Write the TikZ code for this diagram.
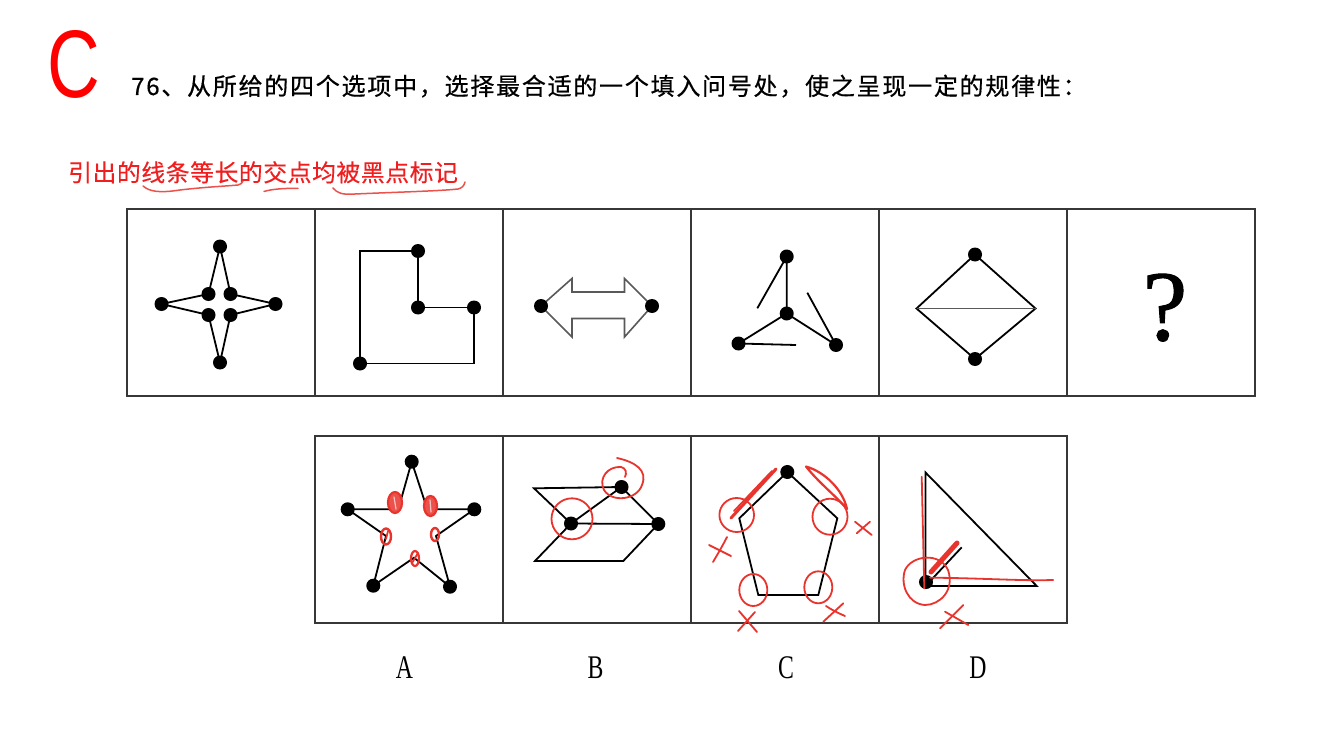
\documentclass[tikz,border=0pt]{standalone}
\usepackage{fontspec}
\setmainfont{Liberation Serif}
\newfontfamily\cjkhead[LetterSpace=7.3,FakeBold=0.6]{Noto Sans CJK SC}
\newfontfamily\cjkred[LetterSpace=2.5,FakeBold=0.3]{Noto Sans CJK SC}
\newfontfamily\sansC{Liberation Sans}
\newfontfamily\qfont[FakeBold=1.0]{Liberation Serif}
\definecolor{annot}{RGB}{232,52,45}
\definecolor{notered}{RGB}{240,30,30}
\definecolor{framec}{RGB}{55,55,55}
\begin{document}
\begin{tikzpicture}[x=1pt,y=-1pt,
  cellframe/.style={draw=framec, line width=2.4},
  fig/.style={draw=black, line width=1.8, line join=miter},
  figgray/.style={draw=black!65, line width=1.6, line join=miter},
  dot/.style={circle, fill=black, inner sep=0pt, minimum size=14pt},
  redmark/.style={draw=annot, line width=1.8, line cap=round, line join=round},
  blob/.style={draw=annot, line width=2.2, fill=annot!85},
  lab/.style={anchor=base, inner sep=0pt}]
\useasboundingbox (0,0) rectangle (1341,754);
\fill[white] (0,0) rectangle (1341,754);

% ---------- header ----------
\node[anchor=base west, inner sep=0pt] (bigC) at (47,98)
  {\scalebox{0.76}[1]{\fontsize{96}{100}\selectfont\sansC\color{red}C}};
\node[anchor=base west, inner sep=0pt] (title) at (131,95)
  {\fontsize{24}{28}\selectfont\cjkhead 76、从所给的四个选项中，选择最合适的一个填入问号处，使之呈现一定的规律性：};
\node[anchor=base west, inner sep=0pt, text=notered] (note) at (68,181.4)
  {\fontsize{23.8}{28}\selectfont\cjkred 引出的线条等长的交点均被黑点标记};
\draw[redmark, line width=1.5, draw=annot!85] (143,186) .. controls (150,192) and (160,193) .. (180,190)
  .. controls (205,187) and (228,186) .. (238,185) .. controls (241,184.5) and (242,183) .. (243,181);
\draw[redmark, line width=1.5, draw=annot!85] (264,191.5) .. controls (272,189) and (286,188) .. (298,188.5);
\draw[redmark, line width=1.5, draw=annot!85] (333,188) .. controls (337,193) and (342,195) .. (355,194)
  .. controls (400,192) and (440,191) .. (458,189) .. controls (462,188) and (464,186) .. (465,182);

% ---------- frames ----------
\draw[cellframe] (127,209) rectangle (1255,396);
\foreach \xx in {315,503,691,879,1067} \draw[cellframe] (\xx,209) -- (\xx,396);
\draw[cellframe] (315,436) rectangle (1067,623);
\foreach \xx in {503,691,879} \draw[cellframe] (\xx,436) -- (\xx,623);

% ---------- cell 1: four-point star ----------
\coordinate (s1t) at (220,246.5);
\coordinate (s1l) at (161.5,304);
\coordinate (s1r) at (275.5,304);
\coordinate (s1b) at (220,362.5);
\coordinate (s1a) at (208.5,294);
\coordinate (s1c) at (230.5,294);
\coordinate (s1d) at (208.5,315);
\coordinate (s1e) at (230.5,315);
\draw[fig] (s1a) -- (s1t) -- (s1c) -- (s1r) -- (s1e) -- (s1b) -- (s1d) -- (s1l) -- cycle;
\foreach \p in {s1t,s1l,s1r,s1b,s1a,s1c,s1d,s1e} \node[dot] (d-\p) at (\p) {};

% ---------- cell 2: L shape ----------
\coordinate (l1) at (360,251);
\coordinate (l2) at (418,251);
\coordinate (l3) at (418,307.5);
\coordinate (l4) at (474,307.5);
\coordinate (l5) at (474,363.5);
\coordinate (l6) at (360,363.5);
\draw[fig] (l1) -- (l2) -- (l3) -- (l4) -- (l5) -- (l6) -- cycle;
\foreach \p in {l2,l3,l4,l6} \node[dot] (d-\p) at (\p) {};

% ---------- cell 3: double arrow ----------
\coordinate (a1) at (541,306);
\coordinate (a2) at (572,278.5);
\coordinate (a3) at (572,292);
\coordinate (a4) at (624.5,292);
\coordinate (a5) at (624.5,278.5);
\coordinate (a6) at (652,306);
\coordinate (a7) at (624.5,337);
\coordinate (a8) at (624.5,318.5);
\coordinate (a9) at (572,318.5);
\coordinate (a10) at (572,337);
\draw[figgray] (a1) -- (a2) -- (a3) -- (a4) -- (a5) -- (a6) -- (a7) -- (a8) -- (a9) -- (a10) -- cycle;
\node[dot] (d-a1) at (a1) {};
\node[dot] (d-a6) at (a6) {};

% ---------- cell 4: tripod ----------
\coordinate (t0) at (786.7,256.5);
\coordinate (tm) at (786.7,313.5);
\coordinate (tl) at (738.5,343.5);
\coordinate (tr) at (836,345);
\coordinate (te1) at (757.3,308.3);
\coordinate (te2) at (807.3,292.7);
\coordinate (te3) at (796,345);
\draw[fig] (t0) -- (tm) -- (tl);
\draw[fig] (tm) -- (tr);
\draw[fig] (t0) -- (te1);
\draw[fig] (tr) -- (te2);
\draw[fig] (tl) -- (te3);
\foreach \p in {t0,tm,tl,tr} \node[dot] (d-\p) at (\p) {};

% ---------- cell 5: diamond ----------
\coordinate (m1) at (975,254.5);
\coordinate (m2) at (916.5,308.5);
\coordinate (m3) at (975,359);
\coordinate (m4) at (1035.5,308.5);
\draw[fig] (m1) -- (m2) -- (m3) -- (m4) -- cycle;
\draw[figgray] (m2) -- (m4);
\node[dot] (d-m1) at (m1) {};
\node[dot] (d-m3) at (m3) {};

% ---------- cell 6: question mark ----------
\node[anchor=base, inner sep=0pt] (qmark) at (1165,340) {\fontsize{100}{100}\selectfont\qfont ?};

% ---------- option A: five-point star ----------
\coordinate (pt) at (411.7,461.7);
\coordinate (pa) at (398.3,509.3);
\coordinate (pl) at (347.7,509.3);
\coordinate (pb) at (386,536);
\coordinate (pbl) at (373.3,585.7);
\coordinate (pc) at (414,557.7);
\coordinate (pbr) at (450,586.7);
\coordinate (pd) at (436,536);
\coordinate (pr) at (474.3,509.3);
\coordinate (pe) at (427.3,509.3);
\draw[fig] (pt) -- (pa) -- (pl) -- (pb) -- (pbl) -- (pc) -- (pbr) -- (pd) -- (pr) -- (pe) -- cycle;
\foreach \p in {pt,pl,pbl,pbr,pr} \node[dot] (d-\p) at (\p) {};
\draw[blob] (395,502.5) ellipse (7 and 10.5);
\draw[redmark, draw=annot!30, line width=1.2] (394,497) -- (396,509);
\draw[blob] (430.5,506) ellipse (6.5 and 10);
\draw[redmark, draw=annot!30, line width=1.2] (430,500) -- (431,512);
\draw[redmark, line width=2.4] (386,536.5) ellipse (5 and 8);
\draw[redmark] (386,539) -- (388,531);
\draw[redmark, line width=2.4] (435,534.5) ellipse (4 and 6.5);
\draw[redmark, line width=2.2] (415,558.5) ellipse (4 and 7.5);
\draw[redmark] (412,563) -- (418,553);

% ---------- option B: parallelograms ----------
\coordinate (q1) at (534,488.3);
\coordinate (qt) at (621.5,487);
\coordinate (qm) at (571,523.5);
\coordinate (qr) at (658.3,524);
\coordinate (q2) at (535,561);
\coordinate (q3) at (623.3,561);
\draw[fig] (q1) -- (qt) -- (qr) -- (qm) -- cycle;
\draw[fig] (qm) -- (q2) -- (q3) -- (qr);
\draw[fig] (qm) -- (qt);
\foreach \p in {qt,qm,qr} \node[dot] (d-\p) at (\p) {};
\draw[redmark] (572,518.8) ellipse (20.5 and 20.5);
\draw[redmark] (617,458) .. controls (635,462) and (648,470) .. (642,485)
  .. controls (637,500) and (612,503) .. (604,490)
  .. controls (598,478) and (608,466) .. (621,467)
  .. controls (626,468) and (627,473) .. (625,477);

% ---------- option C: pentagon ----------
\coordinate (c1) at (787.3,472);
\coordinate (c2) at (739.3,518.3);
\coordinate (c3) at (758.3,595);
\coordinate (c4) at (818.3,595);
\coordinate (c5) at (837.3,518.3);
\draw[fig] (c1) -- (c2) -- (c3) -- (c4) -- (c5) -- cycle;
\node[dot] (d-c1) at (c1) {};
\draw[redmark, line width=3] (776,469) -- (731,518);
\draw[redmark, line width=1.8] (772,471) -- (734,511);
\draw[redmark, line width=2.2] (806,466.5) .. controls (825,472) and (843,490) .. (847,509)
  .. controls (838,498) and (818,482) .. (806,466.5);
\draw[redmark] (736.7,515) ellipse (17.3 and 17);
\draw[redmark] (830,516.7) ellipse (17.5 and 18);
\draw[redmark] (753.3,590) ellipse (14 and 16);
\draw[redmark] (818.3,587.3) ellipse (14 and 16);
\draw[redmark] (709,545) -- (731,556);
\draw[redmark] (713,562) .. controls (719,552) and (724,543) .. (727,537);
\draw[redmark] (855,521.7) -- (871.7,535);
\draw[redmark] (856.7,533.3) -- (870,521.7);
\draw[redmark] (739,611) -- (757,632);
\draw[redmark] (738,631) -- (755,612);
\draw[redmark] (823.3,621.7) -- (843.3,603.3);
\draw[redmark] (826,606) .. controls (832,610) and (838,613) .. (845,616);

% ---------- option D: triangle ----------
\coordinate (r1) at (925.5,472.5);
\coordinate (r2) at (925.5,586);
\coordinate (r3) at (1036.7,586);
\coordinate (r4) at (961.7,547.3);
\draw[fig] (r1) -- (r2) -- (r3) -- cycle;
\draw[fig] (r2) -- (r4);
\node[dot] (d-r2) at (926,582) {};
\draw[redmark] (921.7,476.7) -- (924.3,588.3);
\draw[redmark] (930,577.7) .. controls (980,578) and (1020,581) .. (1053.3,580);
\draw[redmark, line width=5] (931,572) -- (957,543);
\draw[redmark] (905,570) .. controls (912,555) and (940,552) .. (948,570)
  .. controls (955,590) and (940,605) .. (925,605)
  .. controls (908,604) and (900,585) .. (905,570);
\draw[redmark] (945,611.7) -- (968.3,625);
\draw[redmark] (940,628.3) -- (963.3,605);

% ---------- option labels ----------
\node[lab] (labA) at (404.5,678) {\scalebox{0.72}[1]{\fontsize{33}{33}\selectfont A}};
\node[lab] (labB) at (595.5,678) {\scalebox{0.72}[1]{\fontsize{33}{33}\selectfont B}};
\node[lab] (labC) at (786,678) {\scalebox{0.72}[1]{\fontsize{33}{33}\selectfont C}};
\node[lab] (labD) at (978,678) {\scalebox{0.72}[1]{\fontsize{33}{33}\selectfont D}};
\end{tikzpicture}
\end{document}
